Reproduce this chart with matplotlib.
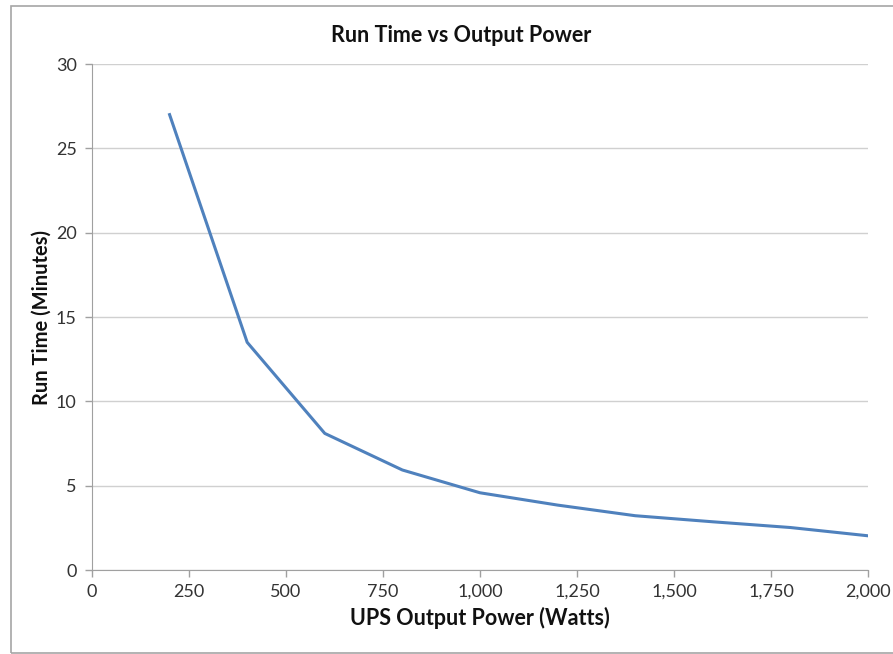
import matplotlib.pyplot as plt
from matplotlib.ticker import FuncFormatter
from matplotlib.patches import Rectangle

# data
potencia = [200, 400, 600, 800, 1000, 1200, 1400, 1600, 1800, 2000]
minutos  = [27.0, 13.5, 8.1, 5.93, 4.58, 3.85, 3.22, 2.86, 2.52, 2.03]

x_ticks = [0, 250, 500, 750, 1000, 1250, 1500, 1750, 2000]
y_ticks = [0, 5, 10, 15, 20, 25, 30]

plt.rcParams['font.family'] = ['Lato', 'DejaVu Sans']

fig = plt.figure(figsize=(8.93, 6.54), dpi=100)
ax = fig.add_axes([0.1030, 0.1284, 0.869, 0.7737])

# marco del grafico (estilo Excel)
fig.patches.append(Rectangle((11 / 893, 1 / 654), 1.0, 647 / 654,
                             transform=fig.transFigure, fill=False,
                             edgecolor='#a6a6a6', linewidth=1.2))

ax.plot(potencia, minutos, color='#4f81bd', linewidth=2.2)

ax.set_xlim(0, 2000)
ax.set_ylim(0, 30)
ax.set_xticks(x_ticks)
ax.set_yticks(y_ticks)
ax.xaxis.set_major_formatter(FuncFormatter(lambda v, p: f'{int(v):,}'))

ax.grid(axis='y', color='#d0d0d0', linewidth=1)
ax.set_axisbelow(True)
for s in ['top', 'right']:
    ax.spines[s].set_visible(False)
for s in ['left', 'bottom']:
    ax.spines[s].set_color('#a0a0a0')
ax.tick_params(axis='both', colors='#a0a0a0', length=5, width=1,
               labelcolor='#333333', labelsize=13)
ax.tick_params(axis='x', pad=5)
ax.tick_params(axis='y', pad=6)

ax.set_title('Run Time vs Output Power', fontsize=15.5, fontweight='bold',
             pad=16, color='#111111', x=0.4755)
ax.set_xlabel('UPS Output Power (Watts)', fontsize=15.5, fontweight='bold',
              labelpad=5, color='#111111')
ax.set_ylabel('Run Time (Minutes)', fontsize=14.5, fontweight='bold',
              labelpad=3, color='#111111')

fig.savefig('out.png', dpi=100)
